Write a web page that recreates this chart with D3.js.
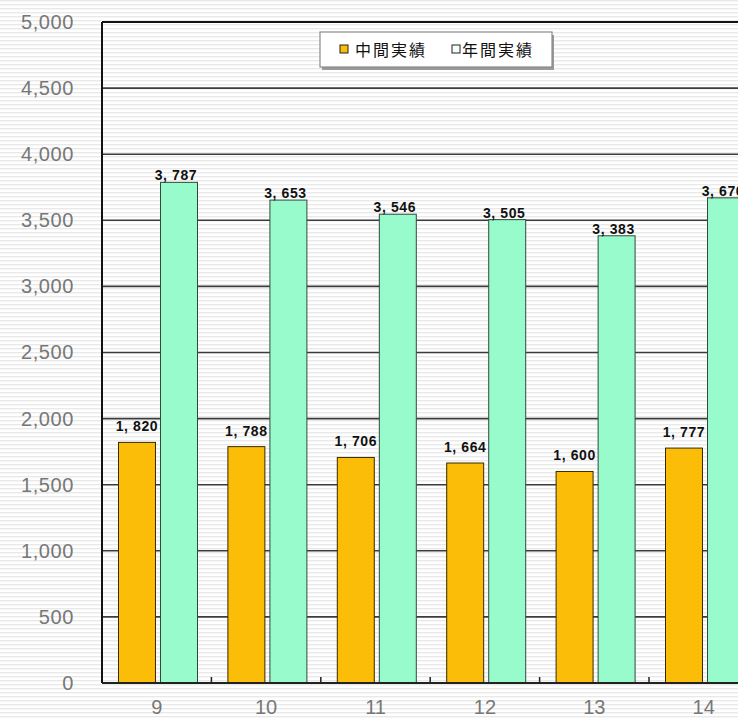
<!DOCTYPE html>
<html>
<head>
<meta charset="utf-8">
<script src="https://cdn.jsdelivr.net/npm/d3@7"></script>
<style>
  html, body { margin: 0; padding: 0; background: #fff; }
  svg { display: block; }
</style>
</head>
<body>
<svg id="chart" width="738" height="718"></svg>
<script>
// Fiscal years on the x axis
const categories = ["9", "10", "11", "12", "13", "14"];
// Interim results and full-year results
const midValues = [1820, 1788, 1706, 1664, 1600, 1777];
const yearValues = [3787, 3653, 3546, 3505, 3383, 3670];
const seriesNames = ["中間実績", "年間実績"];
const seriesColors = ["#fbbd08", "#98fbcb"];
const yTicks = [0, 500, 1000, 1500, 2000, 2500, 3000, 3500, 4000, 4500, 5000];

const W = 738, H = 718;
const plotLeft = 102, plotTop = 22, plotBottom = 683;
const step = 109.4;

const svg = d3.select("#chart");

// faint horizontal texture over the page
const defs = svg.append("defs");
const pat = defs.append("pattern")
  .attr("id", "stripes").attr("patternUnits", "userSpaceOnUse")
  .attr("width", 8).attr("height", 4);
pat.append("rect").attr("width", 8).attr("height", 4).attr("fill", "#ffffff");
pat.append("rect").attr("y", 0).attr("width", 8).attr("height", 1.4).attr("fill", "#e9e9e9");
svg.append("rect").attr("width", W).attr("height", H).attr("fill", "url(#stripes)");

const x = d3.scaleBand().domain(categories).range([plotLeft, plotLeft + step * categories.length]).padding(0);
const xs = d3.scaleBand().domain(seriesNames).range([16.5, 95.5]).paddingInner(0.12).paddingOuter(0);
const y = d3.scaleLinear().domain([0, 5000]).range([plotBottom, plotTop]);

// gridlines
svg.append("g").selectAll("line")
  .data(yTicks.filter(t => t > 0 && t < 5000))
  .join("line")
  .attr("x1", plotLeft).attr("x2", W)
  .attr("y1", d => y(d)).attr("y2", d => y(d))
  .attr("stroke", "#3c3c3c").attr("stroke-width", 1.6);

const fmt = v => d3.format(",")(v).replace(",", ", ");

const labelFont = "'Liberation Sans', Arial, sans-serif";

// interim bars
const g = svg.append("g");
g.selectAll("rect.mid")
  .data(categories.map((c, i) => ({ c, v: midValues[i] })))
  .join("rect").attr("class", "mid")
  .attr("x", d => x(d.c) + xs(seriesNames[0]))
  .attr("y", d => y(d.v))
  .attr("width", xs.bandwidth())
  .attr("height", d => y(0) - y(d.v))
  .attr("fill", seriesColors[0])
  .attr("stroke", "#3a2a00").attr("stroke-width", 1);

g.selectAll("text.midlab")
  .data(categories.map((c, i) => ({ c, v: midValues[i] })))
  .join("text").attr("class", "midlab")
  .attr("x", d => x(d.c) + xs(seriesNames[0]) + xs.bandwidth() / 2)
  .attr("y", d => y(d.v) - 11)
  .attr("text-anchor", "middle")
  .attr("font-family", labelFont).attr("font-weight", "bold").attr("font-size", 14)
  .attr("letter-spacing", 0.6)
  .attr("fill", "#111")
  .text(d => fmt(d.v));

// full-year bars
g.selectAll("rect.year")
  .data(categories.map((c, i) => ({ c, v: yearValues[i] })))
  .join("rect").attr("class", "year")
  .attr("x", d => x(d.c) + xs(seriesNames[1]))
  .attr("y", d => y(d.v))
  .attr("width", xs.bandwidth())
  .attr("height", d => y(0) - y(d.v))
  .attr("fill", seriesColors[1])
  .attr("stroke", "#2f4a3c").attr("stroke-width", 1);

g.selectAll("text.yearlab")
  .data(categories.map((c, i) => ({ c, v: yearValues[i] })))
  .join("text").attr("class", "yearlab")
  .attr("x", d => x(d.c) + xs(seriesNames[1]) + xs.bandwidth() / 2 - 3)
  .attr("y", d => y(d.v) - 2)
  .attr("text-anchor", "middle")
  .attr("font-family", labelFont).attr("font-weight", "bold").attr("font-size", 14)
  .attr("letter-spacing", 0.6)
  .attr("fill", "#111")
  .text(d => fmt(d.v));

// frame: top edge, left axis, baseline
svg.append("line").attr("x1", plotLeft).attr("x2", W).attr("y1", y(5000)).attr("y2", y(5000))
  .attr("stroke", "#111").attr("stroke-width", 2);
svg.append("line").attr("x1", plotLeft).attr("x2", plotLeft).attr("y1", y(5000)).attr("y2", y(0))
  .attr("stroke", "#111").attr("stroke-width", 2);
svg.append("line").attr("x1", plotLeft).attr("x2", W).attr("y1", y(0)).attr("y2", y(0))
  .attr("stroke", "#222").attr("stroke-width", 2);

// small ticks on the baseline at category boundaries
svg.append("g").selectAll("line")
  .data(categories.slice(1))
  .join("line")
  .attr("x1", d => x(d)).attr("x2", d => x(d))
  .attr("y1", y(0)).attr("y2", y(0) - 6)
  .attr("stroke", "#222").attr("stroke-width", 1.5);

// y axis labels
const yAxis = d3.axisLeft(y).tickValues(yTicks).tickFormat(d3.format(",")).tickSize(0).tickPadding(0);
const ya = svg.append("g").attr("transform", `translate(74,0)`).call(yAxis);
ya.select(".domain").remove();
ya.selectAll("text")
  .attr("font-family", labelFont).attr("font-size", 20)
  .attr("letter-spacing", 0.6)
  .attr("fill", "#777");

// x axis labels
const xAxis = d3.axisBottom(x).tickSize(0).tickPadding(0);
const xa = svg.append("g").attr("transform", `translate(0,${plotBottom + 17})`).call(xAxis);
xa.select(".domain").remove();
xa.selectAll("text")
  .attr("font-family", labelFont).attr("font-size", 20)
  .attr("fill", "#777");

// legend
const lg = svg.append("g");
lg.append("rect").attr("x", 322).attr("y", 35).attr("width", 232).attr("height", 35)
  .attr("fill", "#9a9a9a");
lg.append("rect").attr("x", 320).attr("y", 32).attr("width", 232).attr("height", 35)
  .attr("fill", "#fff").attr("stroke", "#8a8a8a").attr("stroke-width", 1.2);
const legendX = [340, 452];
const legendTextX = [355, 462];
seriesNames.forEach((name, i) => {
  lg.append("rect").attr("x", legendX[i]).attr("y", 45).attr("width", 8).attr("height", 8)
    .attr("fill", i === 0 ? seriesColors[0] : "#f4fff9")
    .attr("stroke", "#222").attr("stroke-width", 1);
  lg.append("text").attr("x", legendTextX[i]).attr("y", 56)
    .attr("font-family", "'Noto Sans CJK JP', sans-serif").attr("font-size", 16)
    .attr("letter-spacing", 2)
    .attr("fill", "#111")
    .text(name);
});
</script>
</body>
</html>
